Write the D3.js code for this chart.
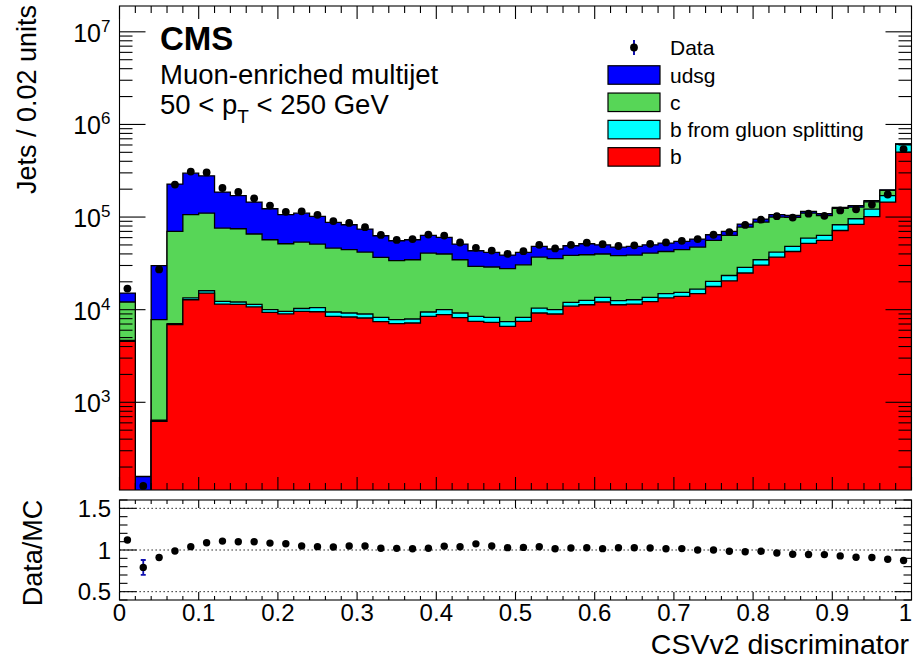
<!DOCTYPE html>
<html>
<head>
<meta charset="utf-8">
<script src="https://cdn.jsdelivr.net/npm/d3@7"></script>
<style>
  html, body { margin: 0; padding: 0; background: #fff; }
  svg { display: block; font-family: "Liberation Sans", Arial, Helvetica, sans-serif; }
</style>
</head>
<body>
<svg id="chart" width="913" height="659"></svg>
<script>
// CSVv2 discriminator, 50 bins of width 0.02, jets per bin
const binWidth = 0.02;

// Simulated flavour contributions (stacked bottom to top: b, b from gluon splitting, c, udsg)
const bFlav = [4550, 40, 624, 6880, 12800, 15100, 11500, 11400, 10700, 9350,
  8990, 9590, 9500, 8470, 8340, 8130, 7430, 7070, 7180, 8470,
  8830, 8200, 7480, 7290, 6610, 7480, 9210, 8980, 10900, 11300,
  12100, 11300, 11500, 12200, 13400, 13900, 14900, 17800, 20500, 24900,
  30300, 37000, 42500, 51900, 56000, 71600, 83200, 101000, 145000, 502000];
const bGluon = [100, 5, 16, 170, 600, 900, 800, 700, 700, 650,
  600, 710, 1000, 970, 870, 850, 830, 730, 750, 970,
  1170, 1010, 990, 970, 820, 780, 1190, 1020, 1100, 1300,
  1500, 1200, 1300, 1400, 1500, 1500, 1800, 2400, 2900, 3700,
  4300, 4900, 5700, 7400, 7400, 11000, 12700, 21000, 25000, 106000];
const cFlav = [7450, 45, 7160, 62850, 92600, 94000, 63800, 62700, 54200, 46900,
  41910, 43400, 40600, 36860, 35190, 32920, 28440, 26000, 26670, 31360,
  29900, 25390, 20830, 20640, 20270, 22240, 26600, 25500, 26500, 26600,
  26300, 25800, 26100, 27200, 27600, 29000, 30700, 35800, 40000, 49400,
  53700, 58100, 50900, 50700, 40600, 41400, 32100, 24000, 24000, 5000];
const udsgFlav = [3000, 68, 22100, 157100, 192000, 169000, 109900, 95200, 79400, 66100,
  54500, 56300, 50500, 41200, 38200, 32300, 26100, 21700, 22300, 22600,
  20400, 16500, 14000, 12600, 11200, 11000, 11200, 9700, 10500, 12300,
  10300, 9100, 9300, 9400, 9900, 10100, 10500, 8400, 6500, 6000,
  6800, 6000, 4900, 5000, 5000, 3000, 5000, 4000, 3000, 5000];

// Observed data and its statistical uncertainty
const dataCounts = [16900, 125, 27200, 224300, 309900, 303300, 205900, 186800, 159400, 133200,
  114000, 115200, 105700, 90600, 86500, 77700, 64100, 56600, 57800, 64700,
  63100, 53100, 46500, 43500, 40000, 42800, 50100, 45900, 50200, 52900,
  51000, 48700, 49500, 51400, 53200, 55400, 57900, 64400, 68800, 82300,
  93600, 102200, 98700, 108700, 103000, 118000, 121400, 136400, 175100, 540100];
const dataErr = [130, 14, 165, 474, 557, 551, 454, 432, 399, 365,
  338, 339, 325, 301, 294, 279, 253, 238, 240, 254,
  251, 230, 216, 209, 200, 207, 224, 214, 224, 230,
  226, 221, 222, 227, 231, 235, 241, 254, 262, 287,
  306, 320, 314, 330, 321, 344, 348, 369, 418, 735];

// Axis ticks and labels
const xTickValues = [0, 0.1, 0.2, 0.3, 0.4, 0.5, 0.6, 0.7, 0.8, 0.9, 1];
const xTickLabels = ["0", "0.1", "0.2", "0.3", "0.4", "0.5", "0.6", "0.7", "0.8", "0.9", "1"];
const yDecades = [3, 4, 5, 6, 7];
const ratioTickValues = [0.5, 1, 1.5];
const ratioTickLabels = ["0.5", "1", "1.5"];

const legendEntries = [
  { key: "udsg", label: "udsg" },
  { key: "c", label: "c" },
  { key: "bg", label: "b from gluon splitting" },
  { key: "b", label: "b" }
];
const colors = { b: "#ff0000", bg: "#00ffff", c: "#57d657", udsg: "#0000ff" };

// ---- layout ----
const L = 119.5, R = 911.5;
const T1 = 6, B1 = 490;     // main pad frame
const T2 = 500, B2 = 600;   // ratio pad frame
const svg = d3.select("#chart");

const x = d3.scaleLinear().domain([0, 1]).range([L, R]);
const y = d3.scaleLog().domain([113, 1.9e7]).range([B1, T1]);
const yr = d3.scaleLinear().domain([0.4, 1.6]).range([B2, T2]);

const nb = bFlav.length;
const rows = d3.range(nb).map(i => ({
  lo: i * binWidth, hi: (i + 1) * binWidth,
  b: bFlav[i], bg: bGluon[i], c: cFlav[i], udsg: udsgFlav[i]
}));
const keys = ["b", "bg", "c", "udsg"];
const stacked = d3.stack().keys(keys)(rows);
const mcTotal = rows.map(r => r.b + r.bg + r.c + r.udsg);

const defs = svg.append("defs");
defs.append("clipPath").attr("id", "clipMain")
  .append("rect").attr("x", L).attr("y", T1).attr("width", R - L).attr("height", B1 - T1);
defs.append("clipPath").attr("id", "clipRatio")
  .append("rect").attr("x", L).attr("y", T2).attr("width", R - L).attr("height", B2 - T2);

// ---- stacked histogram ----
const gHist = svg.append("g").attr("clip-path", "url(#clipMain)");
const yClamp = v => Math.min(B1 + 6, y(Math.max(v, 1)));
const stepArea = d3.area()
  .x(d => x(d.e))
  .y0(B1 + 6)
  .y1(d => yClamp(d.v))
  .curve(d3.curveStepAfter);

stacked.slice().reverse().forEach(layer => {
  const pts = layer.map((d, i) => ({ e: rows[i].lo, v: d[1] }));
  pts.push({ e: rows[nb - 1].hi, v: layer[nb - 1][1] });
  gHist.append("path")
    .attr("d", stepArea(pts))
    .attr("fill", colors[layer.key])
    .attr("stroke", "#000")
    .attr("stroke-width", 1.3)
    .attr("stroke-linejoin", "miter");
});

// ---- data points on main pad ----
const gData = svg.append("g").attr("clip-path", "url(#clipMain)");
dataCounts.forEach((v, i) => {
  const cx = x((rows[i].lo + rows[i].hi) / 2);
  gData.append("line")
    .attr("x1", cx).attr("x2", cx)
    .attr("y1", y(v - dataErr[i])).attr("y2", y(v + dataErr[i]))
    .attr("stroke", "#1010b0").attr("stroke-width", 1.5);
  gData.append("circle").attr("cx", cx).attr("cy", y(v)).attr("r", 3.9).attr("fill", "#000");
});

// ---- ratio pad ----
const gRatio = svg.append("g");
ratioTickValues.forEach(v => {
  gRatio.append("line")
    .attr("x1", L).attr("x2", R).attr("y1", yr(v)).attr("y2", yr(v))
    .attr("stroke", "#000").attr("stroke-width", 1)
    .attr("stroke-dasharray", "1.3,2.7");
});
const gRatioPts = svg.append("g").attr("clip-path", "url(#clipRatio)");
dataCounts.forEach((v, i) => {
  const cx = x((rows[i].lo + rows[i].hi) / 2);
  const r = v / mcTotal[i];
  const e = dataErr[i] / mcTotal[i];
  const y1 = yr(r - e), y2 = yr(r + e);
  if (y1 - y2 > 8) {
    gRatioPts.append("line").attr("x1", cx).attr("x2", cx).attr("y1", y1).attr("y2", y2)
      .attr("stroke", "#1010b0").attr("stroke-width", 1.8);
    [y1, y2].forEach(yy => gRatioPts.append("line")
      .attr("x1", cx - 2.5).attr("x2", cx + 2.5).attr("y1", yy).attr("y2", yy)
      .attr("stroke", "#1010b0").attr("stroke-width", 1.8));
  }
  gRatioPts.append("circle").attr("cx", cx).attr("cy", yr(r)).attr("r", 3.7).attr("fill", "#000");
});

// ---- frames and ticks ----
const gAxes = svg.append("g").attr("stroke", "#000").attr("stroke-width", 1.1).attr("fill", "none");
const tick = (x1, y1, x2, y2) => gAxes.append("line")
  .attr("x1", x1).attr("y1", y1).attr("x2", x2).attr("y2", y2);

function frame(top, bottom) {
  gAxes.append("rect").attr("x", L).attr("y", top).attr("width", R - L).attr("height", bottom - top);
}
frame(T1, B1);
frame(T2, B2);

// x ticks: major every 0.1, minor every 0.02
const xMinor = d3.range(0, 1.0001, binWidth);
function xTicks(top, bottom, majLen, minLen) {
  xMinor.forEach((v, i) => {
    const len = (i % 5 === 0) ? majLen : minLen;
    tick(x(v), bottom, x(v), bottom - len);
    tick(x(v), top, x(v), top + len);
  });
}
xTicks(T1, B1, 13, 7);
xTicks(T2, B2, 8, 4);

// log y ticks on main pad
const yMin = y.domain()[0], yMax = y.domain()[1];
for (let dec = 2; dec <= 7; dec++) {
  for (let m = 1; m <= 9; m++) {
    const v = m * Math.pow(10, dec);
    if (v < yMin || v > yMax) continue;
    const len = m === 1 ? 26 : 13;
    tick(L, y(v), L + len, y(v));
    tick(R, y(v), R - len, y(v));
  }
}

// linear ticks on ratio pad
d3.range(0.4, 1.6001, 0.1).forEach(v => {
  const major = ratioTickValues.some(t => Math.abs(t - v) < 1e-6);
  const len = major ? 17 : 8;
  tick(L, yr(v), L + len, yr(v));
  tick(R, yr(v), R - len, yr(v));
});

// ---- tick labels ----
const gLab = svg.append("g").attr("fill", "#000");
xTickValues.forEach((v, i) => {
  const last = i === xTickValues.length - 1;
  gLab.append("text").attr("x", last ? 912 : x(v)).attr("y", 620.5)
    .attr("text-anchor", last ? "end" : "middle").attr("font-size", 24).text(xTickLabels[i]);
});
yDecades.forEach(dec => {
  const yy = y(Math.pow(10, dec));
  gLab.append("text").attr("x", 101).attr("y", yy + 10)
    .attr("text-anchor", "end").attr("font-size", 25).text("10");
  gLab.append("text").attr("x", 101).attr("y", yy + 0)
    .attr("font-size", 17).text(String(dec));
});
ratioTickValues.forEach((v, i) => {
  gLab.append("text").attr("x", 111).attr("y", yr(v) + 8.5)
    .attr("text-anchor", "end").attr("font-size", 24).text(ratioTickLabels[i]);
});

// ---- axis titles ----
gLab.append("text").attr("x", 909).attr("y", 654)
  .attr("text-anchor", "end").attr("font-size", 28.5).text("CSVv2 discriminator");
gLab.append("text")
  .attr("transform", "translate(36,5) rotate(-90)")
  .attr("text-anchor", "end").attr("font-size", 27).text("Jets / 0.02 units");
gLab.append("text")
  .attr("transform", "translate(42,553) rotate(-90)")
  .attr("text-anchor", "middle").attr("font-size", 27).text("Data/MC");

// ---- labels in the plot ----
gLab.append("text").attr("x", 160).attr("y", 49.5)
  .attr("font-size", 33).attr("font-weight", "bold").text("CMS");
gLab.append("text").attr("x", 160).attr("y", 83.5)
  .attr("font-size", 27.5).text("Muon-enriched multijet");
const ptText = gLab.append("text").attr("x", 160).attr("y", 113.5).attr("font-size", 27.5);
ptText.append("tspan").text("50 < p");
ptText.append("tspan").attr("dy", 9).attr("font-size", 19).text("T");
ptText.append("tspan").attr("dy", -9).text(" < 250 GeV");

// ---- legend ----
const gLeg = svg.append("g");
const legX = 608, legW = 52, legH = 18.5, legTextX = 670, legFont = 21;
gLeg.append("line").attr("x1", 634).attr("x2", 634).attr("y1", 40).attr("y2", 55)
  .attr("stroke", "#1010b0").attr("stroke-width", 2);
gLeg.append("circle").attr("cx", 634).attr("cy", 47.5).attr("r", 3.9).attr("fill", "#000");
gLeg.append("text").attr("x", legTextX).attr("y", 47.5 + 7.5)
  .attr("font-size", legFont).text("Data");
legendEntries.forEach((e, i) => {
  const cy = 75 + i * 27.3;
  gLeg.append("rect").attr("x", legX).attr("y", cy - legH / 2).attr("width", legW).attr("height", legH)
    .attr("fill", colors[e.key]).attr("stroke", "#000").attr("stroke-width", 1.2);
  gLeg.append("text").attr("x", legTextX).attr("y", cy + 7.5)
    .attr("font-size", legFont).text(e.label);
});
</script>
</body>
</html>
